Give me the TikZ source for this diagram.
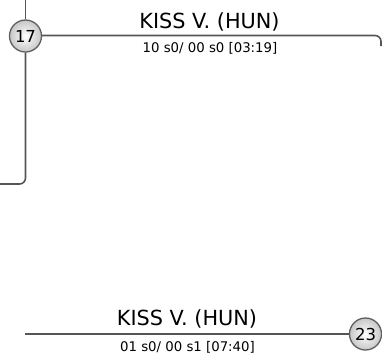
\documentclass[tikz,border=0pt]{standalone}
\usepackage{fontspec}
\setmainfont{DejaVu Sans}
\definecolor{linegray}{RGB}{85,85,85}
\definecolor{ringgray}{RGB}{95,95,95}
\tikzset{
  conn/.style={draw=linegray, line width=1.6pt, rounded corners=6pt},
  num/.style={circle, draw=ringgray, line width=1.3pt, minimum size=32pt, inner sep=0pt,
    inner color=white, outer color=black!22, font=\fontsize{16.5}{16.5}\selectfont},
  title/.style={anchor=base, font=\fontsize{20.8}{21}\selectfont, inner sep=0pt},
  score/.style={anchor=base, font=\fontsize{13.3}{14}\selectfont, inner sep=0pt}
}
\begin{document}
\begin{tikzpicture}[x=1pt,y=1pt]
\useasboundingbox (0,0) rectangle (382,-360);
% top match
\node[num] (c17) at (25.5,-36) {17};
\coordinate (t0) at (25.5,0);
\coordinate (lc) at (25.5,-184);
\coordinate (le) at (0,-184);
\coordinate (rc) at (381,-35.5);
\coordinate (re) at (381,-46);
\draw[conn] (t0) -- (c17.north);
\draw[conn] (c17.south) -- (lc) -- (le);
\draw[conn] (c17.east |- 0,-35.5) -- (rc) -- (re);
\node[title] (n1) at (209.5,-28) {KISS V. (HUN)};
\node[score] (s1) at (210,-52.5) {10 s0/ 00 s0 [03:19]};
% bottom match
\node[num] (c23) at (365.5,-334) {23};
\coordinate (bl) at (25,-334);
\draw[conn] (bl) -- (c23.west);
\node[title] (n2) at (187,-325.5) {KISS V. (HUN)};
\node[score] (s2) at (187.5,-351.5) {01 s0/ 00 s1 [07:40]};
\end{tikzpicture}
\end{document}
